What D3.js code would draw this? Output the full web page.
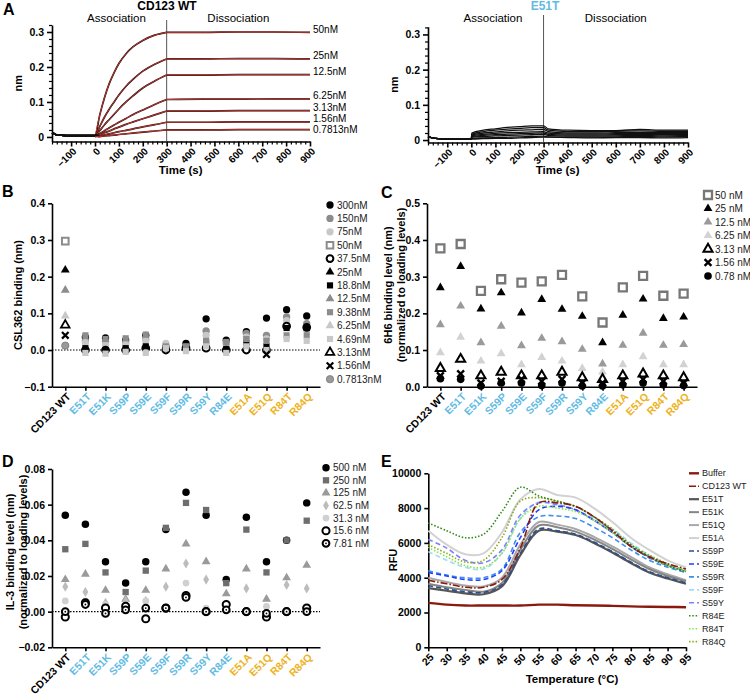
<!DOCTYPE html>
<html><head><meta charset="utf-8">
<script src="https://cdn.jsdelivr.net/npm/d3@7"></script>
<style>
body{margin:0;background:#fff;}
svg{font-family:"Liberation Sans",Arial,Helvetica,sans-serif;}
.axis path,.axis line{stroke:#000;stroke-width:1.6px;}
.axis text{font-weight:bold;font-size:10.5px;}
.minor line{stroke:#000;stroke-width:1.2px;}
.minor path{display:none;}
.minor text{display:none;}
</style></head><body>
<svg id="c" width="750" height="695"></svg>
<script>
// ---------------- DATA ----------------
// Panel A (CD123 WT sensorgram)
const sensorConcs = ["50nM","25nM","12.5nM","6.25nM","3.13nM","1.56nM","0.7813nM"];
const baselineTimes = [-180,-170,-160,-140,-110,-80,-50,-20,0];
const baselineValues = [0.012,0.009,0.006,0.005,0.004,0.004,0.004,0.004,0.004];
const assocTimes = [0,20,40,60,80,100,130,160,200,250,300];
const assocValues = [
  [0,0.063,0.113,0.153,0.184,0.210,0.238,0.258,0.276,0.291,0.299],
  [0,0.030,0.057,0.080,0.100,0.120,0.145,0.165,0.188,0.208,0.223],
  [0,0.018,0.035,0.050,0.065,0.080,0.100,0.118,0.140,0.160,0.177],
  [0,0.009,0.018,0.026,0.034,0.042,0.053,0.064,0.077,0.093,0.107],
  [0,0.006,0.012,0.017,0.023,0.028,0.036,0.043,0.052,0.063,0.074],
  [0,0.003,0.006,0.009,0.012,0.015,0.019,0.023,0.029,0.035,0.042],
  [0,0.001,0.003,0.004,0.005,0.007,0.009,0.011,0.014,0.017,0.020]
];
const dissocTimes = [300,450,600,750,900];
const dissocValues = [
  [0.299,0.299,0.300,0.300,0.299],
  [0.223,0.223,0.224,0.224,0.223],
  [0.177,0.177,0.178,0.178,0.178],
  [0.107,0.108,0.108,0.109,0.109],
  [0.074,0.074,0.075,0.075,0.075],
  [0.042,0.042,0.043,0.043,0.043],
  [0.020,0.020,0.021,0.021,0.021]
];
// Panel A (E51T sensorgram)
const e51tTimes = [-180,-150,-100,-50,0,2,50,100,150,200,250,300,320,400,500,600,700,800,900];
const e51tTraces = [
  [0.010,0.005,0.003,0.003,0.003,0.020,0.028,0.032,0.036,0.038,0.040,0.040,0.032,0.028,0.027,0.027,0.030,0.028,0.028],
  [0.010,0.005,0.003,0.003,0.003,0.017,0.024,0.028,0.031,0.033,0.035,0.035,0.028,0.024,0.024,0.025,0.026,0.025,0.025],
  [0.010,0.005,0.003,0.003,0.003,0.014,0.020,0.023,0.026,0.028,0.029,0.030,0.024,0.020,0.020,0.021,0.022,0.021,0.022],
  [0.010,0.005,0.003,0.003,0.003,0.012,0.016,0.019,0.021,0.022,0.023,0.024,0.020,0.017,0.017,0.018,0.019,0.018,0.019],
  [0.010,0.005,0.003,0.003,0.003,0.010,0.013,0.015,0.017,0.018,0.019,0.020,0.016,0.014,0.014,0.015,0.016,0.015,0.016],
  [0.010,0.005,0.003,0.003,0.003,0.008,0.010,0.012,0.013,0.014,0.015,0.016,0.013,0.011,0.011,0.012,0.013,0.012,0.013],
  [0.010,0.005,0.003,0.003,0.003,0.005,0.006,0.007,0.008,0.009,0.010,0.011,0.009,0.008,0.008,0.009,0.010,0.009,0.010],
  [0.010,0.005,0.003,0.003,0.003,0.003,0.004,0.005,0.005,0.006,0.007,0.008,0.008,0.007,0.006,0.007,0.007,0.006,0.007]
];
const timeTicks = [-100,0,100,200,300,400,500,600,700,800,900];
const nmTicks = [0,0.1,0.2,0.3];

// Categories (panels B, C, D)
const cats = ["CD123 WT","E51T","E51K","S59P","S59E","S59F","S59R","S59Y","R84E","E51A","E51Q","R84T","R84Q"];
const catGroup = ["wt","b","b","b","b","b","b","b","b","o","o","o","o"];

// Panel B
const bConc = ["300nM","150nM","75nM","50nM","37.5nM","25nM","18.8nM","12.5nM","9.38nM","6.25nM","4.69nM","3.13nM","1.56nM","0.7813nM"];
const b300 = [null,0.035,0.033,0.027,0.040,0.008,0.018,0.085,0.027,0.050,0.087,0.110,0.093];
const b150 = [null,0.025,0.022,0.020,0.030,0.012,0.008,0.052,0.020,0.045,0.040,0.090,0.072];
const b75  = [null,0.020,0.015,0.015,0.025,0.018,0.005,0.040,0.015,0.035,0.030,0.080,0.055];
const b50  = [0.297,null,null,null,null,null,null,null,null,null,null,null,null];
const b37  = [null,0.000,0.000,0.000,0.005,0.000,0.005,0.005,0.000,0.000,0.000,0.065,0.062];
const b25  = [0.218,null,null,null,null,null,null,null,null,null,null,null,null];
const b18  = [null,0.005,0.000,0.005,0.010,0.005,0.005,0.020,0.003,0.020,0.010,0.060,0.060];
const b12  = [0.163,null,null,null,null,null,null,null,null,null,null,null,null];
const b9   = [null,0.040,0.030,0.032,0.042,0.010,0.010,0.025,0.022,0.030,0.025,0.040,0.040];
const b6   = [0.093,null,null,null,null,null,null,null,null,null,null,null,null];
const b4   = [null,-0.008,-0.010,-0.005,-0.008,0.005,-0.003,0.010,-0.008,0.010,0.000,0.030,0.025];
const b3   = [0.068,null,null,null,null,null,null,null,null,null,null,null,null];
const b1   = [0.040,null,null,null,null,null,null,null,null,null,-0.012,null,null];
const b07  = [0.012,null,null,null,null,null,null,null,null,null,null,null,null];
const bTicks = [-0.1,0,0.1,0.2,0.3,0.4];

// Panel C
const cConc = ["50 nM","25 nM","12.5 nM","6.25 nM","3.13 nM","1.56 nM","0.78 nM"];
const c50  = [0.377,0.389,0.261,0.293,0.284,0.287,0.305,0.246,0.175,0.271,0.302,0.248,0.254];
const c25  = [0.270,0.328,0.212,0.256,0.201,0.238,0.211,0.192,0.120,0.195,0.239,0.186,0.190];
const c12  = [0.169,0.220,0.120,0.165,0.112,0.132,0.123,0.102,0.062,0.113,0.146,0.113,0.115];
const c6   = [0.093,0.135,0.070,0.090,0.060,0.080,0.070,0.050,0.040,0.060,0.082,0.060,0.060];
const c3   = [0.050,0.075,0.030,0.040,0.030,0.030,0.040,0.025,0.020,0.030,0.035,0.030,0.025];
const c1   = [0.030,0.035,0.010,0.015,0.020,0.015,0.020,0.010,0.010,0.015,0.020,0.015,0.010];
const c07  = [0.022,0.020,0.002,0.010,0.010,0.003,0.010,0.002,0.002,0.005,0.010,0.005,0.003];
const cTicks = [0,0.1,0.2,0.3,0.4,0.5];

// Panel D
const dConc = ["500 nM","250 nM","125 nM","62.5 nM","31.3 nM","15.6 nM","7.81 nM"];
const d500 = [0.054,0.049,0.028,0.016,0.028,0.046,0.067,0.054,0.018,0.053,0.028,0.040,0.061];
const d250 = [0.035,0.038,0.022,0.011,0.023,0.047,0.061,0.057,0.016,0.046,0.022,0.040,0.051];
const d125 = [0.018,0.021,0.012,0.007,0.012,0.024,0.038,0.028,0.010,0.024,0.007,0.019,0.026];
const d62  = [0.014,0.011,0.005,0.006,0.006,0.014,0.027,0.018,0.004,0.013,0.002,0.015,0.013];
const d31  = [0.006,0.006,0.004,0.003,0.006,0.002,0.016,0.002,0.003,0.000,0.003,0.000,0.000];
const d15  = [-0.003,0.005,0.002,0.003,-0.004,0.002,0.009,0.000,0.004,0.000,-0.003,0.000,0.002];
const d7   = [0.000,0.004,-0.001,0.001,0.002,0.002,0.008,0.000,0.001,0.000,-0.001,0.000,0.000];
const dTicks = [-0.02,0,0.02,0.04,0.06,0.08];

// Panel E (thermal melt)
const temps = [25,30,35,40,45,50,55,60,65,70,75,80,85,90,95];
const eNames = ["Buffer","CD123 WT","E51T","E51K","E51Q","E51A","S59P","S59E","S59R","S59F","S59Y","R84E","R84T","R84Q"];
const rfuValues = [
  [2550,2450,2400,2400,2400,2400,2450,2450,2420,2400,2380,2350,2330,2320,2300],
  [3850,3650,3450,3450,3900,5700,8300,8300,8100,7500,6700,5800,5200,4800,4500],
  [3400,3250,3100,3050,3500,5300,6700,6650,6450,6000,5450,4850,4300,3950,3650],
  [3650,3450,3300,3200,3700,5600,7000,6900,6650,6200,5650,5050,4500,4100,3800],
  [4000,3750,3550,3500,4000,5900,7200,7050,6800,6350,5800,5200,4600,4200,3850],
  [6700,5900,5350,5400,6600,8500,9100,8750,8600,8000,7200,6300,5600,5000,4600],
  [3550,3350,3200,3150,3600,5400,6800,6700,6500,6050,5500,4900,4350,4000,3700],
  [4300,4100,3900,3900,4400,6300,7900,8100,7900,7300,6600,5800,5150,4700,4350],
  [4400,4150,4000,4000,4500,6600,7500,7550,7400,6900,6300,5600,5000,4600,4300],
  [5500,5000,4600,4500,5400,7400,8350,8200,7900,7400,6800,6000,5300,4800,4400],
  [6200,5700,5000,4850,5600,7600,8300,8200,7900,7300,6600,5800,5200,4700,4300],
  [7150,6700,6300,6500,7800,9200,8700,8400,8100,7500,6700,5900,5200,4700,4350],
  [5750,5200,4700,4600,5400,7400,8100,8000,7800,7300,6600,5800,5200,4700,4350],
  [5900,5400,4900,5000,6300,8400,8600,8400,8100,7500,6800,5900,5300,4800,4400]
];
const tempTicks = [25,30,35,40,45,50,55,60,65,70,75,80,85,90,95];
const rfuTicks = [0,2000,4000,6000,8000,10000];

// ---------------- STYLES ----------------
const BLUE = "#62bbe3", ORANGE = "#eeb221";
const catColor = g => g === "wt" ? "#000" : (g === "b" ? BLUE : ORANGE);
const eStyles = [
  {c:"#8b1a0e",w:2.4,d:null},
  {c:"#8b1a0e",w:1.6,d:"7,2,1.5,2"},
  {c:"#555555",w:2.2,d:null},
  {c:"#858585",w:2.0,d:null},
  {c:"#a8a8a8",w:2.0,d:null},
  {c:"#d2d2d2",w:2.0,d:null},
  {c:"#2c4f8c",w:1.6,d:"5,3"},
  {c:"#1f3dff",w:1.6,d:"5,3"},
  {c:"#3d8ef0",w:1.6,d:"5,3"},
  {c:"#9fdcf8",w:1.6,d:"5,3"},
  {c:"#8080ff",w:1.6,d:"5,3"},
  {c:"#2f8a12",w:1.6,d:"1.5,1.8"},
  {c:"#84e640",w:1.6,d:"1.5,1.8"},
  {c:"#8aa81e",w:1.6,d:"1.5,1.8"}
];

const svg = d3.select("#c");
const fmt1 = d3.format(".1f"), fmt2 = d3.format(".2f");

function drawMarker(g, x, y, m) {
  let size = m.size || 40;
  if (m.type === "ringdot") {
    g.append("circle").attr("cx",x).attr("cy",y).attr("r",3.4).attr("fill","#fff").attr("stroke","#000").attr("stroke-width",2);
    g.append("circle").attr("cx",x).attr("cy",y).attr("r",0.9).attr("fill","#000");
    return;
  }
  const types = {circle:d3.symbolCircle, square:d3.symbolSquare, triangle:d3.symbolTriangle, times:d3.symbolTimes, diamond:d3.symbolDiamond};
  const p = g.append("path").attr("d", d3.symbol().type(types[m.type]).size(size)()).attr("transform",`translate(${x},${y})`);
  if (m.type === "times") {
    p.attr("fill","none").attr("stroke",m.stroke).attr("stroke-width",m.sw||2.2);
  } else if (m.open) {
    p.attr("fill","#fff").attr("stroke",m.stroke).attr("stroke-width",m.sw||2);
  } else {
    p.attr("fill",m.fill).attr("stroke",m.stroke||"none").attr("stroke-width",m.sw||0);
  }
}

function yLabel(x, y, lines) {
  const t = svg.append("text").attr("transform",`translate(${x},${y}) rotate(-90)`).attr("text-anchor","middle")
    .attr("font-weight","bold").attr("font-size","11px");
  lines.forEach((l,i)=> t.append("tspan").attr("x",0).attr("dy", i===0 ? 0 : "1.15em").text(l));
}

function panelLetter(t,x,y){ svg.append("text").attr("x",x).attr("y",y).attr("font-weight","bold").attr("font-size","16px").text(t); }

// ---------------- PANEL A ----------------
function sensorPanel(xr, yDom, yr, title, titleColor, vTop, titleX) {
  const x = d3.scaleLinear().domain([-180,900]).range(xr);
  const y = d3.scaleLinear().domain(yDom).range(yr);
  const g = svg.append("g");
  const minorX = d3.range(-180,901,20).filter(v=>v%100!==0);
  const minorY = d3.range(0,0.321,0.02).filter(v=>Math.abs(v*10-Math.round(v*10))>1e-6);
  g.append("g").attr("class","minor").attr("transform",`translate(0,${yr[0]})`).call(d3.axisBottom(x).tickValues(minorX).tickSize(3).tickSizeOuter(0));
  g.append("g").attr("class","minor").attr("transform",`translate(${xr[0]},0)`).call(d3.axisLeft(y).tickValues(minorY).tickSize(3).tickSizeOuter(0));
  const ax = g.append("g").attr("class","axis").attr("transform",`translate(0,${yr[0]})`)
    .call(d3.axisBottom(x).tickValues(timeTicks).tickSize(5).tickSizeOuter(0));
  ax.selectAll("text").attr("x",0).attr("y",0).attr("dy","0.35em").attr("text-anchor","end")
    .attr("transform","translate(3,8) rotate(-45)").style("font-size","10px");
  g.append("g").attr("class","axis").attr("transform",`translate(${xr[0]},0)`)
    .call(d3.axisLeft(y).tickValues(nmTicks).tickSize(5).tickSizeOuter(0).tickFormat(d=>d===0?"0":fmt1(d)));
  g.append("line").attr("x1",x(300)).attr("x2",x(300)).attr("y1",vTop).attr("y2",yr[0]).attr("stroke","#555").attr("stroke-width",1);
  g.append("text").attr("x",x(90)).attr("y",22).attr("text-anchor","middle").attr("font-size","11.5px").text("Association");
  g.append("text").attr("x",x(600)).attr("y",22).attr("text-anchor","middle").attr("font-size","11.5px").text("Dissociation");
  g.append("text").attr("x",titleX).attr("y",10).attr("text-anchor","middle").attr("font-weight","bold").attr("font-size","12px").attr("fill",titleColor).text(title);
  yLabel(xr[0]-30, (yr[0]+yr[1])/2, ["nm"]);
  g.append("text").attr("x",(x(300)+x(400))/2+2).attr("y",174).attr("text-anchor","middle").attr("font-weight","bold").attr("font-size","11.5px").text("Time (s)");
  return {x,y,g};
}

(function(){
  const L = sensorPanel([52,310],[-0.013,0.32],[141.5,25],"CD123 WT","#000",20,167);
  const line = d3.line().x(d=>L.x(d[0])).y(d=>L.y(d[1])).curve(d3.curveMonotoneX);
  const base = baselineTimes.map((t,i)=>[t,baselineValues[i]]);
  let prevY = -Infinity;
  sensorConcs.forEach((c,i)=>{
    const assoc = assocTimes.map((t,j)=>[t,assocValues[i][j]]);
    const diss = dissocTimes.map((t,j)=>[t,dissocValues[i][j]]);
    L.g.append("path").attr("d",line(base.concat(assoc.slice(1)))).attr("fill","none").attr("stroke","#111").attr("stroke-width",1.7);
    L.g.append("path").attr("d",line(diss)).attr("fill","none").attr("stroke","#111").attr("stroke-width",1.7);
    L.g.append("path").attr("d",line(assoc)).attr("fill","none").attr("stroke","#e2352c").attr("stroke-width",0.9);
    L.g.append("path").attr("d",line(diss)).attr("fill","none").attr("stroke","#e2352c").attr("stroke-width",0.9);
    let ly = Math.max(L.y(dissocValues[i][dissocValues[i].length-1])-3, prevY+10.5);
    prevY = ly;
    L.g.append("text").attr("x",313).attr("y",ly).attr("dy","0.35em").attr("font-size","10px").text(c);
  });
  const R = sensorPanel([428,688],[-0.007,0.322],[142.5,26.7],"E51T",BLUE,15,545);
  const line2 = d3.line().x(d=>R.x(d[0])).y(d=>R.y(d[1])).curve(d3.curveMonotoneX);
  e51tTraces.forEach(tr=>{
    R.g.append("path").attr("d",line2(e51tTimes.map((t,j)=>[t,tr[j]]))).attr("fill","none").attr("stroke","#111").attr("stroke-width",1.3);
  });
})();

// ---------------- SCATTER PANELS ----------------
function scatterPanel(o) {
  const x = d3.scalePoint().domain(cats).range(o.xr).padding(0.66);
  const y = d3.scaleLinear().domain(o.yDom).range(o.yr);
  const g = svg.append("g");
  if (o.zeroLine) g.append("line").attr("x1",o.xr[0]).attr("x2",o.xr[1]).attr("y1",y(0)).attr("y2",y(0))
      .attr("stroke","#000").attr("stroke-width",1.2).attr("stroke-dasharray","1.5,1.5");
  const ax = g.append("g").attr("class","axis").attr("transform",`translate(0,${o.yr[0]})`)
    .call(d3.axisBottom(x).tickSize(4).tickSizeOuter(0));
  ax.selectAll("text").attr("x",0).attr("y",0).attr("dy","0.35em").attr("text-anchor","end")
    .attr("transform","translate(3,8) rotate(-45)")
    .style("font-size","10.5px").style("fill",(d,i)=>catColor(catGroup[i]));
  g.append("g").attr("class","axis").attr("transform",`translate(${o.xr[0]},0)`)
    .call(d3.axisLeft(y).tickValues(o.ticks).tickSize(4).tickSizeOuter(0).tickFormat(o.fmt));
  o.series.forEach((vals,si)=>{
    vals.forEach((v,ci)=>{ if (v!==null) drawMarker(g, x(cats[ci]), y(v), o.markers[si]); });
  });
  o.names.forEach((n,i)=>{
    const ly = o.legY + i*o.legDy;
    drawMarker(g, o.legX, ly, o.markers[i]);
    g.append("text").attr("x",o.legX+7).attr("y",ly).attr("dy","0.35em").attr("font-size","10px").attr("fill","#222").text(n);
  });
  return {x,y,g};
}

scatterPanel({
  xr:[52,320], yDom:[-0.1,0.4], yr:[386.7,203.3], ticks:bTicks, fmt:fmt1, zeroLine:true,
  series:[b300,b150,b75,b50,b37,b25,b18,b12,b9,b6,b4,b3,b1,b07], names:bConc,
  markers:[
    {type:"circle",fill:"#000",size:42},
    {type:"circle",fill:"#8c8c8c",size:42},
    {type:"circle",fill:"#c8c8c8",size:42},
    {type:"square",open:true,stroke:"#8c8c8c",sw:2,size:44},
    {type:"circle",open:true,stroke:"#000",sw:2,size:36},
    {type:"triangle",fill:"#000",size:34},
    {type:"square",fill:"#000",size:38},
    {type:"triangle",fill:"#8c8c8c",size:34},
    {type:"square",fill:"#8c8c8c",size:38},
    {type:"triangle",fill:"#c8c8c8",size:34},
    {type:"square",fill:"#c8c8c8",size:38},
    {type:"triangle",open:true,stroke:"#000",sw:1.8,size:32},
    {type:"times",stroke:"#000",sw:2.2,size:30},
    {type:"circle",fill:"#9a9a9a",stroke:"#777",sw:0.8,size:42}
  ],
  legX:330, legY:205, legDy:13.4
});
yLabel(22, 295, ["CSL362 binding (nm)"]);

scatterPanel({
  xr:[427,697], yDom:[0,0.5], yr:[386.7,203.3], ticks:cTicks, fmt:fmt1, zeroLine:false,
  series:[c50,c25,c12,c6,c3,c1,c07], names:cConc,
  markers:[
    {type:"square",open:true,stroke:"#777",sw:2.3,size:64},
    {type:"triangle",fill:"#000",size:34},
    {type:"triangle",fill:"#9a9a9a",size:34},
    {type:"triangle",fill:"#d2d2d2",size:34},
    {type:"triangle",open:true,stroke:"#000",sw:2,size:36},
    {type:"times",stroke:"#000",sw:2.4,size:32},
    {type:"circle",fill:"#000",size:46}
  ],
  legX:708, legY:195, legDy:13.5
});
yLabel(392, 285, ["6H6 binding level (nm)","(normalized to loading levels)"]);

scatterPanel({
  xr:[52,320], yDom:[-0.02,0.08], yr:[647.3,469], ticks:dTicks, fmt:fmt2, zeroLine:true,
  series:[d500,d250,d125,d62,d31,d15,d7], names:dConc,
  markers:[
    {type:"circle",fill:"#000",size:44},
    {type:"square",fill:"#6e6e6e",size:40},
    {type:"triangle",fill:"#9a9a9a",size:34},
    {type:"diamond",fill:"#bcbcbc",size:30},
    {type:"circle",fill:"#d0d0d0",size:36},
    {type:"circle",open:true,stroke:"#000",sw:2,size:40},
    {type:"ringdot"}
  ],
  legX:326, legY:467.7, legDy:12.6
});
yLabel(14, 552, ["IL-3 binding level (nm)","(normalized to loading levels)"]);

// ---------------- PANEL E ----------------
(function(){
  const x = d3.scaleLinear().domain([25,95]).range([428.3,686]);
  const y = d3.scaleLinear().domain([0,10000]).range([647.3,473.3]);
  const g = svg.append("g");
  const ax = g.append("g").attr("class","axis").attr("transform",`translate(0,647.3)`)
    .call(d3.axisBottom(x).tickValues(tempTicks).tickSize(4).tickSizeOuter(0));
  ax.selectAll("text").attr("x",0).attr("y",0).attr("dy","0.35em").attr("text-anchor","end")
    .attr("transform","translate(3,8) rotate(-45)");
  g.append("g").attr("class","axis").attr("transform",`translate(428.3,0)`)
    .call(d3.axisLeft(y).tickValues(rfuTicks).tickSize(4).tickSizeOuter(0).tickFormat(d3.format("d")));
  const line = d3.line().x(d=>x(d[0])).y(d=>y(d[1])).curve(d3.curveCatmullRom.alpha(0.5));
  const order = [5,4,3,2,6,9,10,8,7,13,12,11,1,0];
  order.forEach(i=>{
    const s = eStyles[i];
    g.append("path").attr("d",line(temps.map((t,j)=>[t,rfuValues[i][j]])))
      .attr("fill","none").attr("stroke",s.c).attr("stroke-width",s.w).attr("stroke-dasharray",s.d);
  });
  eNames.forEach((n,i)=>{
    const ly = 473.3 + i*12.95, s = eStyles[i];
    g.append("line").attr("x1",689).attr("x2",699).attr("y1",ly).attr("y2",ly)
      .attr("stroke",s.c).attr("stroke-width",s.w).attr("stroke-dasharray",s.d);
    g.append("text").attr("x",702).attr("y",ly).attr("dy","0.35em").attr("font-size","9px").attr("fill","#222").text(n);
  });
  yLabel(397, 560, ["RFU"]);
  g.append("text").attr("x",572).attr("y",683).attr("text-anchor","middle").attr("font-weight","bold").attr("font-size","11.5px").text("Temperature (°C)");
})();

panelLetter("A",3,15);
panelLetter("B",2,197);
panelLetter("C",381,198);
panelLetter("D",2,467);
panelLetter("E",381,467);
</script>
</body></html>
